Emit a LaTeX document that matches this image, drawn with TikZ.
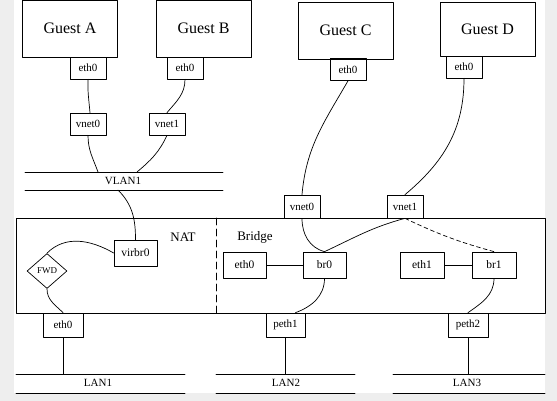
\documentclass[tikz,border=0pt]{standalone}
\usepackage{fontspec}
\setmainfont{Liberation Serif}
\usepackage{tikz}
\usetikzlibrary{shapes.geometric}

\begin{document}
\begin{tikzpicture}[line cap=round,line join=round,x=1pt,y=1pt,line width=0.7pt,
  guest/.style={draw,minimum width=95pt,minimum height=57pt,inner sep=0pt,font=\fontsize{16}{18}\selectfont},
  port/.style={draw,minimum width=36pt,minimum height=22pt,inner sep=0pt,font=\fontsize{11}{13}\selectfont},
  dev/.style={draw,minimum width=43pt,minimum height=26pt,inner sep=0pt,font=\fontsize{11.5}{13}\selectfont},
  lbl/.style={inner sep=0pt,font=\fontsize{11}{13}\selectfont}]
\useasboundingbox (0,0) rectangle (557,-401);
\fill[gray!13] (0,0) rectangle (557,-401);
\fill[white] (14,0) rectangle (545,-393);
% guests
\node[guest] (gA) at (70,-28.5) {Guest A};
\node[guest] (gB) at (203.5,-28.5) {Guest B};
\node[guest] (gC) at (345.5,-30.5) {Guest C};
\node[guest,minimum height=54pt] (gD) at (487.5,-29) {Guest D};
\node[port] (eA) at (88,-68) {eth0};
\node[port] (eB) at (185,-68) {eth0};
\node[port] (eC) at (348,-69.5) {eth0};
\node[port] (eD) at (464,-67) {eth0};
\node[port] (vA) at (88,-124) {vnet0};
\node[port] (vB) at (167,-124) {vnet1};
\node[port,minimum height=23pt] (vC) at (302,-206.5) {vnet0};
\node[port,minimum height=23pt] (vD) at (405,-206.5) {vnet1};
% VLAN1
\draw (25,-172)-- (223,-172);
\draw (25,-190)-- (223,-190);
\node[lbl] (vlan) at (123,-181) {VLAN1};
\coordinate (vlA) at (98,-172);
\coordinate (vlB) at (137,-172);
\coordinate (vlC) at (118,-190);
% host
\draw (16,-218) rectangle (545,-313);
\draw[dash pattern=on 7pt off 4pt] (216,-218)-- (216,-313);
\node[font=\fontsize{13}{15}\selectfont] (nat) at (183,-237) {NAT};
\node[font=\fontsize{13}{15}\selectfont] (bridge) at (255,-237) {Bridge};
\node[dev] (vir) at (135.5,-253) {virbr0};
\node[draw,diamond,minimum width=40pt,minimum height=35pt,inner sep=0pt,font=\fontsize{9}{11}\selectfont] (fwd) at (47,-271) {FWD};
\node[port,minimum width=40pt,minimum height=24pt] (eN) at (63,-325) {eth0};
\node[dev] (eBr) at (244.5,-265) {eth0};
\node[dev] (br0) at (324.5,-265) {br0};
\node[dev,minimum width=44pt] (e1) at (422,-265) {eth1};
\node[dev,minimum width=44pt] (br1) at (494,-265) {br1};
\node[port,minimum width=39pt,minimum height=24pt] (pA) at (285.5,-325) {peth1};
\node[port,minimum width=40pt,minimum height=24pt] (pB) at (468,-325) {peth2};
% LANs
\draw (16,-374)-- (185,-374);
\draw (16,-393)-- (185,-393);
\draw (216,-374)-- (355,-374);
\draw (216,-393)-- (355,-393);
\draw (393,-374)-- (545,-374);
\draw (393,-393)-- (545,-393);
\node[lbl] (lan1) at (98,-383) {LAN1};
\node[lbl] (lan2) at (286,-383) {LAN2};
\node[lbl] (lan3) at (467,-383) {LAN3};
\coordinate (l1) at (63,-374);
\coordinate (l2) at (285.5,-374);
\coordinate (l3) at (468,-374);
% links
\draw (eA.south) to[out=-92,in=95] ([xshift=2pt]vA.north);
\draw (vA.south) to[out=-90,in=110] (vlA);
\draw (eB.south) to[out=-90,in=50] (vB.north);
\draw (vB.south) to[out=-115,in=40] (vlB);
\draw (vlC) to[out=-45,in=90] (vir.north);
\draw (vir.west) to[out=150,in=45] (fwd.north);
\draw (fwd.south) to[out=-90,in=135] (eN.north);
\draw (eN) -- (l1);
\draw (eC.south) to[out=-120,in=85] (vC.north);
\draw (eD.south) to[out=-90,in=40] (vD.north);
\draw (vC.south) to[out=-90,in=165] (br0.north);
\draw (vD.south) to[out=-165,in=25] (br0.north);
\draw[dash pattern=on 4pt off 3pt] (vD.south) to[bend right=5] (br1.north);
\draw (eBr) -- (br0);
\draw (e1) -- (br1);
\draw (br0.south) to[out=-90,in=20] ([xshift=10pt]pA.north);
\draw (br1.south) to[out=-90,in=35] (pB.north);
\draw (pA) -- (l2);
\draw (pB) -- (l3);
\end{tikzpicture}
\end{document}
